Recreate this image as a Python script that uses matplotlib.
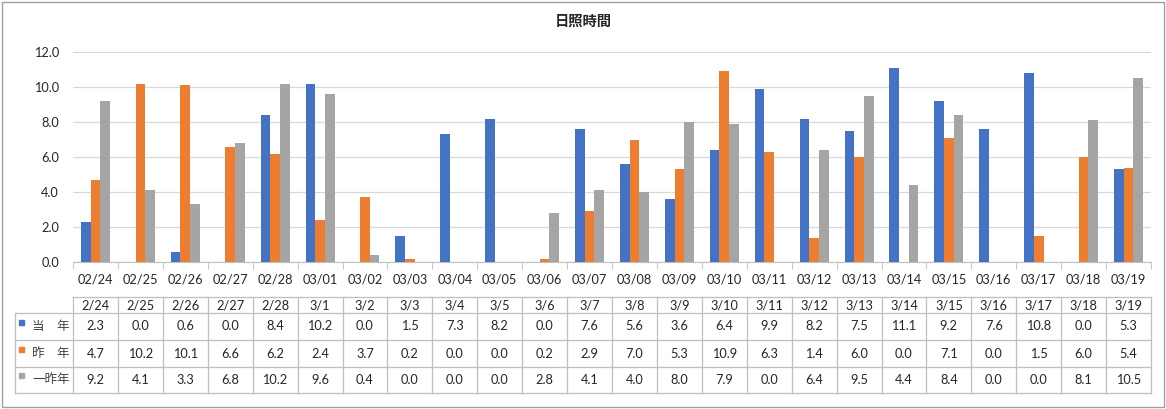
import numpy as np
import matplotlib.pyplot as plt
from matplotlib.patches import Rectangle

plt.rcParams['font.family'] = ['Lato', 'Noto Sans CJK JP', 'DejaVu Sans']

# data
axis_labels = ["02/24", "02/25", "02/26", "02/27", "02/28", "03/01", "03/02", "03/03",
               "03/04", "03/05", "03/06", "03/07", "03/08", "03/09", "03/10", "03/11",
               "03/12", "03/13", "03/14", "03/15", "03/16", "03/17", "03/18", "03/19"]
table_labels = ["2/24", "2/25", "2/26", "2/27", "2/28", "3/1", "3/2", "3/3", "3/4", "3/5",
                "3/6", "3/7", "3/8", "3/9", "3/10", "3/11", "3/12", "3/13", "3/14", "3/15",
                "3/16", "3/17", "3/18", "3/19"]
series_names = ["当　年", "昨　年", "一昨年"]
this_year = [2.3, 0.0, 0.6, 0.0, 8.4, 10.2, 0.0, 1.5, 7.3, 8.2, 0.0, 7.6,
             5.6, 3.6, 6.4, 9.9, 8.2, 7.5, 11.1, 9.2, 7.6, 10.8, 0.0, 5.3]
last_year = [4.7, 10.2, 10.1, 6.6, 6.2, 2.4, 3.7, 0.2, 0.0, 0.0, 0.2, 2.9,
             7.0, 5.3, 10.9, 6.3, 1.4, 6.0, 0.0, 7.1, 0.0, 1.5, 6.0, 5.4]
two_years_ago = [9.2, 4.1, 3.3, 6.8, 10.2, 9.6, 0.4, 0.0, 0.0, 0.0, 2.8, 4.1,
                 4.0, 8.0, 7.9, 0.0, 6.4, 9.5, 4.4, 8.4, 0.0, 0.0, 8.1, 10.5]
colors = ["#4472C4", "#ED7D31", "#A5A5A5"]

W, H = 1166, 409
fig = plt.figure(figsize=(W / 100, H / 100), dpi=100)
txt_c = "#262626"
fs = 9.2

# plot area in pixel coords
left, right, top, bottom = 73, 1151, 52, 262
ax = fig.add_axes([left / W, 1 - bottom / H, (right - left) / W, (bottom - top) / H])

n = len(axis_labels)
x = np.arange(n)
bw = 0.215
for i, vals in enumerate([this_year, last_year, two_years_ago]):
    ax.bar(x + (i - 1) * bw, vals, width=bw, color=colors[i], zorder=3)

ax.set_xlim(-0.5, n - 0.5)
ax.set_ylim(0, 12)
ax.set_yticks(np.arange(0, 12.1, 2))
ax.set_yticklabels([f"{v:.1f}" for v in np.arange(0, 12.1, 2)], fontsize=fs, color=txt_c)
ax.yaxis.grid(True, color="#D9D9D9", linewidth=0.9, zorder=0)
ax.tick_params(axis="y", length=0, pad=10)
ax.set_xticks(x)
ax.set_xticklabels(axis_labels, fontsize=fs, color=txt_c)
ax.set_xticks(np.arange(-0.5, n, 1), minor=True)
ax.tick_params(axis="x", which="major", length=0, pad=8)
ax.tick_params(axis="x", which="minor", length=5, color="#BFBFBF")
for s in ["top", "right", "left"]:
    ax.spines[s].set_visible(False)
ax.spines["bottom"].set_color("#BFBFBF")

# title
fig.text(583 / W, 1 - 22 / H, "日照時間", ha="center", va="center",
         fontsize=10.3, fontweight="bold", color=txt_c, family="Noto Sans CJK JP")

# data table drawn in pixel space
tab = fig.add_axes([0, 0, 1, 1])
tab.set_xlim(0, W)
tab.set_ylim(H, 0)
tab.axis("off")
line_c = "#BFBFBF"
col_w = (right - left) / n
rows_y = [297, 313, 340, 367, 393]
leg_left = 15

# horizontal lines
tab.plot([left, right], [rows_y[0], rows_y[0]], color=line_c, lw=0.9)
for yy in rows_y[1:]:
    tab.plot([leg_left, right], [yy, yy], color=line_c, lw=0.9)
# vertical lines
for j in range(n + 1):
    xx = left + j * col_w
    tab.plot([xx, xx], [rows_y[0], rows_y[-1]], color=line_c, lw=0.9)
tab.plot([leg_left, leg_left], [rows_y[1], rows_y[-1]], color=line_c, lw=0.9)

for j, lab in enumerate(table_labels):
    tab.text(left + (j + 0.5) * col_w, (rows_y[0] + rows_y[1]) / 2, lab,
             ha="center", va="center", fontsize=fs, color=txt_c)

for r, vals in enumerate([this_year, last_year, two_years_ago]):
    yc = (rows_y[r + 1] + rows_y[r + 2]) / 2
    tab.add_patch(Rectangle((19, yc - 7), 5, 5, color=colors[r]))
    tab.text(70, yc, series_names[r], ha="right", va="center", fontsize=9,
             color="#404040", family="Noto Sans CJK JP")
    for j, v in enumerate(vals):
        tab.text(left + (j + 0.5) * col_w, yc, f"{v:.1f}",
                 ha="center", va="center", fontsize=fs, color=txt_c)

# outer chart border
tab.add_patch(Rectangle((1.5, 1.5), W - 4, H - 4, fill=False, edgecolor="#A0A0A0", lw=1))

fig.savefig("out.png", dpi=100)
